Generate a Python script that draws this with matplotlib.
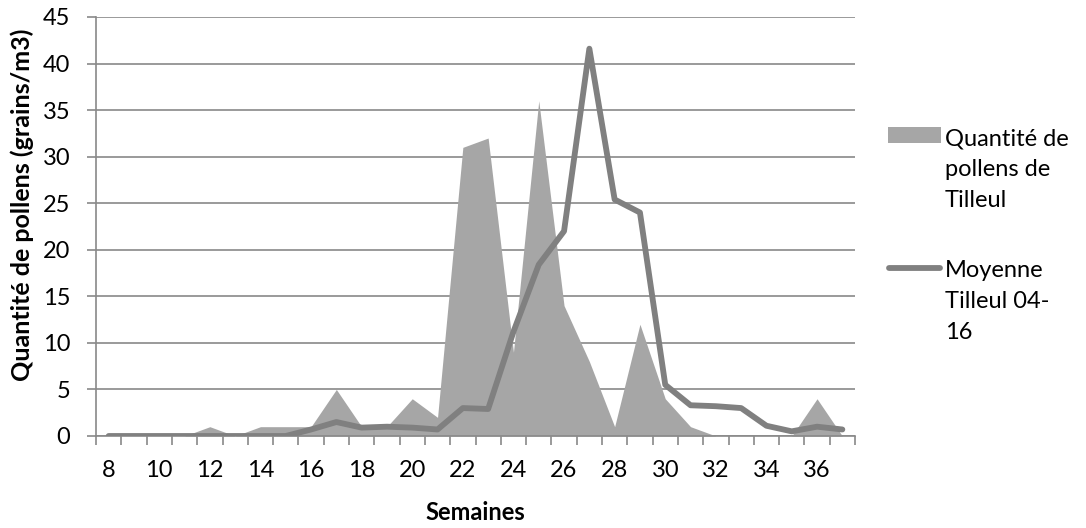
import matplotlib
matplotlib.use("Agg")
import matplotlib.pyplot as plt
from matplotlib.patches import Rectangle
from matplotlib.lines import Line2D
import numpy as np

plt.rcParams['font.family'] = ['Lato', 'DejaVu Sans']

weeks = list(range(8, 38))
pollen_tilleul = [0, 0, 0, 0, 1, 0, 1, 1, 1, 5, 1, 1, 4, 2, 31, 32, 9, 36, 14, 8,
                  1, 12, 4, 1, 0, 0, 0, 0, 4, 0]
moyenne_04_16 = [0, 0, 0, 0, 0, 0, 0, 0, 0.7, 1.5, 0.9, 1.0, 0.9, 0.7, 3.0, 2.9,
                 11.2, 18.4, 22, 41.6, 25.4, 24, 5.5, 3.3, 3.2, 3.0, 1.1, 0.5, 1.0, 0.7]
y_ticks = [0, 5, 10, 15, 20, 25, 30, 35, 40, 45]

W, H = 1086, 528
FS = 17
fig = plt.figure(figsize=(W / 100, H / 100), dpi=100)
ax = fig.add_axes([96 / W, (H - 436) / H, (855 - 96) / W, (436 - 17) / H])

x = np.arange(len(weeks))
grid_col = '#898989'

ax.fill_between(x, pollen_tilleul, 0, color='#A6A6A6', linewidth=0, zorder=2)
ax.plot(x, moyenne_04_16, color='#808080', linewidth=4.2, zorder=3,
        solid_capstyle='round', solid_joinstyle='round')

ax.set_xlim(-0.5, len(weeks) - 0.5)
ax.set_ylim(0, 45)
ax.set_yticks(y_ticks)
ax.set_yticklabels([str(v) for v in y_ticks])
ax.yaxis.grid(True, color=grid_col, linewidth=1.2, zorder=0)
ax.set_axisbelow(True)

ax.set_xticks(x[::2])
ax.set_xticklabels([str(w) for w in weeks[::2]])
ax.set_xticks(np.arange(-0.5, len(weeks)), minor=True)
ax.tick_params(axis='x', which='major', length=0, pad=17, labelsize=FS)
ax.tick_params(axis='x', which='minor', length=6.5, width=1.2, color=grid_col, direction='out')
ax.tick_params(axis='y', length=6.5, width=1.2, color=grid_col, pad=12, labelsize=FS)

for s in ['top', 'right']:
    ax.spines[s].set_visible(False)
for s in ['left', 'bottom']:
    ax.spines[s].set_color(grid_col)
    ax.spines[s].set_linewidth(1.2)

fig.text(22 / W, 1 - 205 / H, 'Quantité de pollens (grains/m3)', rotation=90,
         ha='center', va='center', fontsize=18, fontweight='bold')
fig.text(475 / W, 1 - 512 / H, 'Semaines', ha='center', va='center',
         fontsize=FS, fontweight='bold')

# legend
fig.add_artist(Rectangle((888 / W, 1 - 143 / H), (941 - 888) / W, 16 / H,
                         transform=fig.transFigure, color='#A6A6A6', linewidth=0))
fig.add_artist(Line2D([889 / W, 940 / W], [1 - 268 / H, 1 - 268 / H],
                      transform=fig.transFigure, color='#808080', linewidth=4.2,
                      solid_capstyle='round'))
fig.text(945 / W, 1 - 207 / H, 'Quantité de\npollens de\nTilleul', ha='left',
         va='baseline', fontsize=FS, linespacing=1.58, multialignment='left')
fig.text(945 / W, 1 - 339 / H, 'Moyenne\nTilleul 04-\n16', ha='left',
         va='baseline', fontsize=FS, linespacing=1.58, multialignment='left')

fig.savefig('out.png', dpi=100)
